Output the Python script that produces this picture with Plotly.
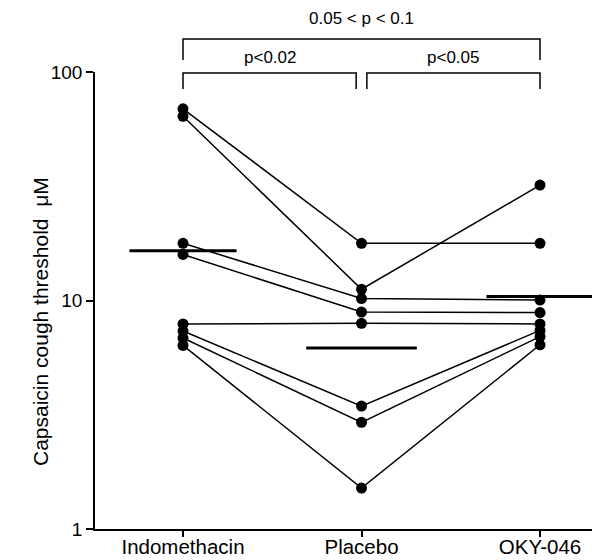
import plotly.graph_objects as go

groups = ["Indomethacin", "Placebo", "OKY-046"]
indomethacin = [69.0, 64.0, 17.8, 15.9, 7.9, 7.35, 6.85, 6.36]
placebo = [17.8, 11.2, 10.2, 8.9, 7.95, 3.45, 2.93, 1.51]
oky046 = [17.8, 32.0, 10.05, 8.85, 7.9, 7.4, 6.95, 6.4]
group_means = [16.5, 6.2, 10.4]
mean_halfwidth = [0.3, 0.31, 0.3]

brackets = [
    {"x0": 0, "x1": 2, "label": "0.05 < p < 0.1"},
    {"x0": 0, "x1": 0.97, "label": "p<0.02"},
    {"x0": 1.03, "x1": 2, "label": "p<0.05"},
]

FONT = "Liberation Sans, Arial, sans-serif"

fig = go.Figure()
xs = [0, 1, 2]
for i in range(len(indomethacin)):
    fig.add_trace(go.Scatter(
        x=xs,
        y=[indomethacin[i], placebo[i], oky046[i]],
        mode="lines+markers",
        line=dict(color="black", width=1.5),
        marker=dict(color="black", size=11),
        showlegend=False,
        hoverinfo="skip",
        cliponaxis=False,
    ))

for i, m in enumerate(group_means):
    fig.add_trace(go.Scatter(
        x=[xs[i] - mean_halfwidth[i], xs[i] + mean_halfwidth[i]],
        y=[m, m],
        mode="lines",
        line=dict(color="black", width=3),
        showlegend=False,
        hoverinfo="skip",
    ))

# page body has an 8px margin; plot area in page px: x 95..600, y 72..529
H = 457.0
def py(pixel_y):
    return (529 - pixel_y) / H

specs = [(39, 60, 19), (73, 89, 57), (73, 89, 57)]
for b, (ytop, yend, ytext) in zip(brackets, specs):
    fig.add_shape(type="path",
                  xref="x", yref="paper",
                  path=f"M {b['x0']},{py(yend)} L {b['x0']},{py(ytop)} L {b['x1']},{py(ytop)} L {b['x1']},{py(yend)}",
                  line=dict(color="black", width=1.5))
    fig.add_annotation(x=(b["x0"] + b["x1"]) / 2, y=py(ytext), xref="x", yref="paper",
                       text=b["label"], showarrow=False,
                       font=dict(family=FONT, size=17, color="black"),
                       yanchor="middle", xanchor="center")

fig.add_annotation(x=(40 - 95) / 505.0, y=py(322), xref="paper", yref="paper",
                   text="Capsaicin cough threshold  μM", textangle=-90,
                   showarrow=False, font=dict(family=FONT, size=21, color="black"),
                   xanchor="center", yanchor="middle")

fig.update_xaxes(
    range=[-0.493, 2.336],
    tickvals=xs, ticktext=groups,
    showline=True, linecolor="black", linewidth=1.5,
    ticks="outside", ticklen=6, tickwidth=1.5, tickcolor="black",
    showgrid=False, zeroline=False, automargin=False,
    ticklabelstandoff=-7,
    tickfont=dict(family=FONT, size=20.5, color="black"),
)
fig.update_yaxes(
    type="log", range=[0, 2],
    tickvals=[1, 10, 100], ticktext=["1", "10", "100"],
    showline=True, linecolor="black", linewidth=1.5,
    ticks="outside", ticklen=7, tickwidth=1.5, tickcolor="black",
    showgrid=False, zeroline=False, automargin=False,
    tickfont=dict(family=FONT, size=19, color="black"),
)
fig.update_layout(
    width=592, height=552,
    margin=dict(l=87, r=0, t=64, b=31, autoexpand=False),
    plot_bgcolor="white", paper_bgcolor="white",
)
fig.write_html("out.html")
